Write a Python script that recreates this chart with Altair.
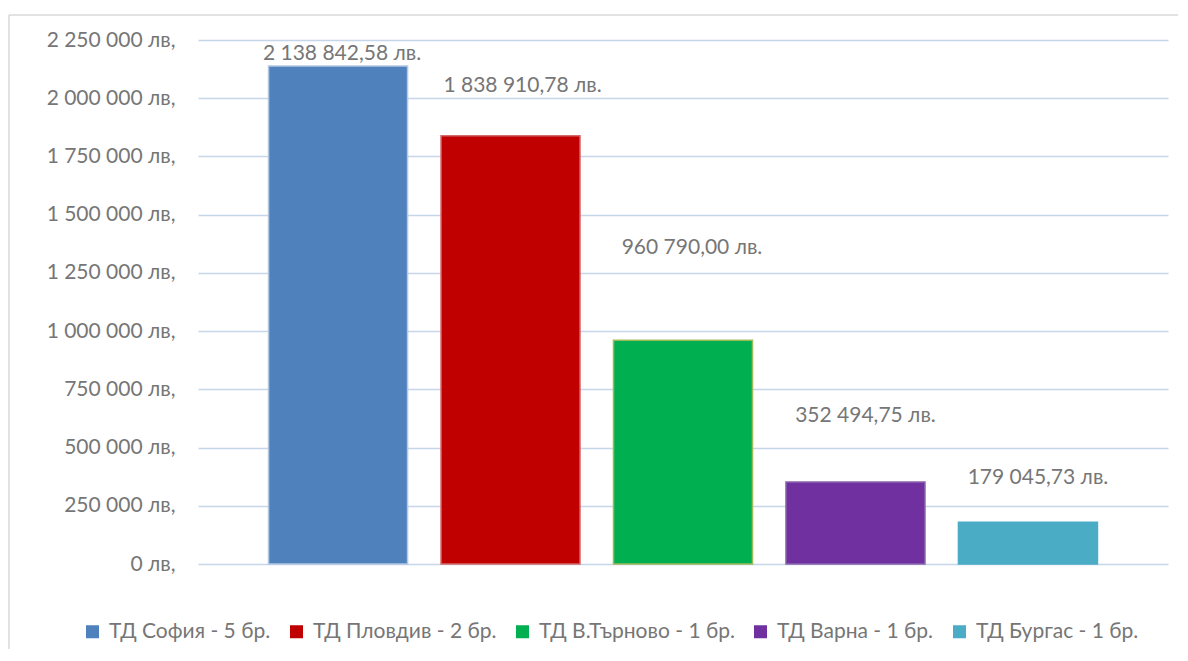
import altair as alt
import pandas as pd

names = ["ТД София - 5 бр.", "ТД Пловдив - 2 бр.", "ТД В.Търново - 1 бр.", "ТД Варна - 1 бр.", "ТД Бургас - 1 бр."]
values = [2138842.58, 1838910.78, 960790.00, 352494.75, 179045.73]
y_ticks = [0, 250000, 500000, 750000, 1000000, 1250000, 1500000, 1750000, 2000000, 2250000]

fills = ["#4F81BD", "#C00000", "#00B050", "#7030A0", "#4BACC6"]
strokes = ["#B3C8E3", "#D46A6A", "#9BBB59", "#8A64AE", "#4BACC6"]
label_dy = [-12, -50, -92, -66, -44]
label_dx = [4, 12, 9, 10, 10]

FONT = "Lato"
TXT = "#767676"
FS = 21


def fmt(v):
    s = f"{v:,.2f}"
    return s.replace(",", " ").replace(".", ",") + " лв."


df = pd.DataFrame({"name": names, "value": values, "label": [fmt(v) for v in values]})

x_enc = alt.X("name:N", sort=names, axis=None,
              scale=alt.Scale(domain=names, paddingInner=0.194, paddingOuter=0.409))
y_enc = alt.Y("value:Q",
              scale=alt.Scale(domain=[0, 2250000], nice=False, zero=True),
              axis=alt.Axis(values=y_ticks, title=None, domain=False, ticks=False,
                            labelPadding=23, labelFont=FONT, labelFontSize=FS, labelColor=TXT,
                            gridColor="#C5D5EA", gridWidth=1.5,
                            labelExpr="replace(format(datum.value, ','), regexp(',', 'g'), ' ') + ' лв,'"))

bars = alt.Chart(df).mark_bar(strokeWidth=1.5).encode(
    x=x_enc,
    y=y_enc,
    color=alt.Color("name:N", sort=names,
                    scale=alt.Scale(domain=names, range=fills),
                    legend=alt.Legend(title=None, orient="none", direction="horizontal", columns=5,
                                      legendX=-116, legendY=581, symbolType="square",
                                      symbolSize=169, symbolStrokeWidth=0, labelFont=FONT,
                                      labelFontSize=FS, labelColor=TXT, labelOffset=6,
                                      labelLimit=1000, columnPadding=15, padding=0)),
    stroke=alt.Stroke("name:N", sort=names, scale=alt.Scale(domain=names, range=strokes), legend=None),
)

layers = [bars]
for i in range(len(names)):
    t = alt.Chart(df.iloc[[i]]).mark_text(
        dy=label_dy[i], dx=label_dx[i], font=FONT, fontSize=FS, color=TXT, baseline="middle"
    ).encode(x=x_enc, y=alt.Y("value:Q"), text="label:N")
    layers.append(t)

frame_df = pd.DataFrame({"k": [0]})
top_line = alt.Chart(frame_df).mark_rule(color="#D9D9D9", strokeWidth=1.5).encode(
    x=alt.value(-189), x2=alt.value(1000), y=alt.value(-25))
left_line = alt.Chart(frame_df).mark_rule(color="#D9D9D9", strokeWidth=1.5).encode(
    x=alt.value(-189), y=alt.value(-25), y2=alt.value(700))

chart = alt.layer(top_line, left_line, *layers).properties(
    width=970, height=524,
    autosize=alt.AutoSizeParams(type="none"),
    padding={"left": 190, "top": 32, "right": 10, "bottom": 85},
    background="white",
).configure_view(stroke=None)

chart.save("out.html", embed_options={"renderer": "svg", "actions": False})
